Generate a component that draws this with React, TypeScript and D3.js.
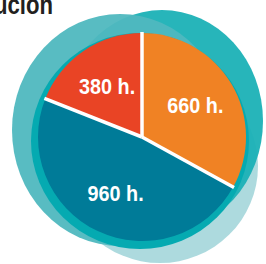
import React, { useEffect, useRef } from "react";
import * as d3 from "d3";

// slice data, clockwise from 12 o'clock
const categories = ["b", "c", "a"];
const hours = [660, 960, 380];
const labels = ["660 h.", "960 h.", "380 h."];
const sliceColors = ["#F08224", "#007B98", "#E94425"];

const title = "Distribución";

// decorative blobs behind the pie
const blobs = [
  { cx: 160, cy: 166, rx: 98, ry: 97, fill: "#A9D8DC" },
  { cx: 162, cy: 121, rx: 101, ry: 111, fill: "#1BB1B6" },
  { cx: 120, cy: 130, rx: 108, ry: 116, fill: "#4FB8BF" },
  { cx: 140, cy: 141, rx: 109, ry: 108, fill: "#05AAB1" },
];

const App = () => {
  const svgRef = useRef<SVGSVGElement>(null);

  useEffect(() => {
    const width = 266;
    const height = 264;
    const svg = d3.select(svgRef.current);
    svg.selectAll("*").remove();
    svg.attr("width", width).attr("height", height);

    svg
      .append("text")
      .attr("transform", "translate(53,14) scale(0.82,1)")
      .attr("text-anchor", "end")
      .style("font-family", "'Liberation Sans', Arial, sans-serif")
      .style("font-weight", "bold")
      .style("font-size", "27px")
      .attr("fill", "#231F20")
      .text(title);

    svg
      .selectAll(".blob")
      .data(blobs)
      .enter()
      .append("ellipse")
      .attr("class", "blob")
      .attr("cx", (d) => d.cx)
      .attr("cy", (d) => d.cy)
      .attr("rx", (d) => d.rx)
      .attr("ry", (d) => d.ry)
      .attr("fill", (d) => d.fill)
      .attr("opacity", (d, i) => (i === 3 ? 1 : 0.95));

    const cx = 142;
    const cy = 137;
    const radius = 104;

    const data = categories.map((c, i) => ({ key: c, value: hours[i], label: labels[i] }));
    const pie = d3
      .pie<any>()
      .sort(null)
      .value((d) => d.value);
    const arcs = pie(data);

    const arc = d3.arc<any>().innerRadius(0).outerRadius(radius);
    const labelArc = d3.arc<any>().innerRadius(124).outerRadius(0);

    const g = svg.append("g").attr("transform", `translate(${cx},${cy})`);

    g.selectAll(".slice")
      .data(arcs)
      .enter()
      .append("path")
      .attr("class", "slice")
      .attr("d", arc)
      .attr("fill", (d, i) => sliceColors[i]);

    // white separators
    g.selectAll(".sep")
      .data(arcs)
      .enter()
      .append("line")
      .attr("x1", 0)
      .attr("y1", 0)
      .attr("x2", (d) => Math.sin(d.startAngle) * (radius + 1))
      .attr("y2", (d) => -Math.cos(d.startAngle) * (radius + 1))
      .attr("stroke", "#fff")
      .attr("stroke-width", 3.5);

    g.selectAll(".lbl")
      .data(arcs)
      .enter()
      .append("text")
      .attr("transform", (d) => {
        const [x, y] = labelArc.centroid(d);
        return `translate(${x},${y}) scale(0.9,1)`;
      })
      .attr("text-anchor", "middle")
      .attr("dy", "0.36em")
      .style("font-family", "'Liberation Sans', Arial, sans-serif")
      .style("font-weight", "bold")
      .style("font-size", "22px")
      .attr("fill", "#fff")
      .text((d) => d.data.label);
  }, []);

  return (
    <div style={{ position: "absolute", left: 0, top: 0 }}>
      <svg ref={svgRef}></svg>
    </div>
  );
};

export default App;
